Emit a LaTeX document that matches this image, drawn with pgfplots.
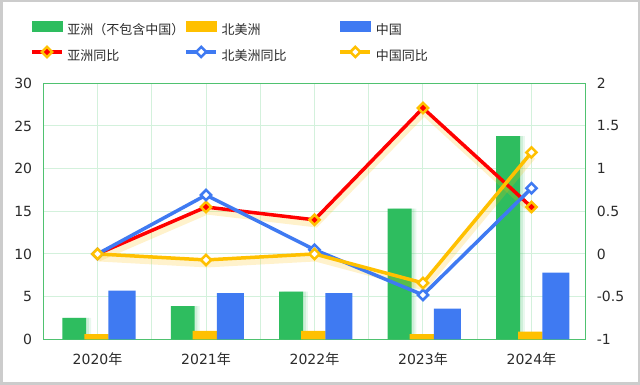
\documentclass[border=0pt]{standalone}
\usepackage{pgfplots}
\pgfplotsset{compat=1.18}
\usepackage{fontspec}
\setmainfont{DejaVu Sans}
\newfontfamily\cjk{Noto Sans CJK SC}
\definecolor{cGrn}{HTML}{2EBD5F}
\definecolor{cYel}{HTML}{FFC000}
\definecolor{cBlu}{HTML}{3F7AF2}
\definecolor{cRed}{HTML}{FF0000}
\definecolor{gridc}{HTML}{D3F1DC}
\definecolor{axc}{HTML}{4FC270}
\definecolor{txt}{HTML}{2B2B2B}
\definecolor{frame}{HTML}{CCCCCC}
\pgfplotsset{
  base/.style={
    scale only axis, width=542.4pt, height=256pt,
    at={(43.3pt,45.7pt)}, anchor=south west,
    xmin=-0.5, xmax=4.5,
    major tick length=0pt, minor tick length=0pt,
    /pgf/number format/assume math mode=true,
    tick label style={font=\fontsize{14}{16}\selectfont, text=txt},
  }
}
\begin{document}
\begin{tikzpicture}
\useasboundingbox (0,0) rectangle (640pt,385pt);
\fill[white] (0,0) rectangle (640pt,385pt);
\draw[frame, line width=2.5pt] (1.25pt,1.25pt) rectangle (638.75pt,383.75pt);
\begin{axis}[base,
  ymin=0, ymax=30, ytick={0,5,...,30},
  yticklabels={0,5,10,15,20,25,30},
  xtick={0,1,2,3,4},
  xticklabels={2020{\cjk 年},2021{\cjk 年},2022{\cjk 年},2023{\cjk 年},2024{\cjk 年}},
  minor xtick={-0.5,0.5,1.5,2.5,3.5,4.5},
  xmajorgrids, xminorgrids, ymajorgrids,
  major grid style={draw=gridc, line width=1pt},
  minor grid style={draw=gridc, line width=1pt},
  axis line style={draw=axc, line width=1pt},
  x tick label style={inner sep=0pt, text height=11pt, text depth=2pt},
  xticklabel shift=14.5pt,
  y tick label style={inner sep=0pt},
  yticklabel shift=11pt,
]
% green bar shadow
\addplot[ybar, bar width=0.22, bar shift=-0.17, fill=cGrn, fill opacity=0.10, draw=none]
  coordinates {(0,2.5) (1,3.9) (2,5.6) (3,15.3) (4,23.8)};
\addplot[ybar, bar width=0.22, bar shift=-0.19, fill=cGrn, fill opacity=0.14, draw=none]
  coordinates {(0,2.5) (1,3.9) (2,5.6) (3,15.3) (4,23.8)};
\addplot[ybar, bar width=0.22, bar shift=-0.215, fill=cGrn, draw=none]
  coordinates {(0,2.5) (1,3.9) (2,5.6) (3,15.3) (4,23.8)};
\addplot[ybar, bar width=0.225, bar shift=-0.01, fill=cYel, draw=none]
  coordinates {(0,0.6) (1,1.0) (2,1.0) (3,0.6) (4,0.9)};
\addplot[ybar, bar width=0.25, bar shift=0.225, fill=cBlu, draw=none]
  coordinates {(0,5.7) (1,5.4) (2,5.4) (3,3.6) (4,7.8)};
\end{axis}
\begin{axis}[base,
  ymin=-1, ymax=2, ytick={-1,-0.5,0,0.5,1,1.5,2},
  yticklabels={-1,-0.5,0,0.5,1,1.5,2},
  axis y line*=right, axis x line=none,
  axis line style={draw=none},
  y tick label style={inner sep=0pt},
  yticklabel shift=11pt,
  legend columns=3,
  legend style={at={(-0.0245,1.2434)}, anchor=north west, draw=none, fill=none,
    inner sep=0pt, row sep=9pt,
    font=\fontsize{13}{15}\selectfont,
    nodes={text=txt, text width=117pt, align=left, inner sep=0pt, text height=10pt, text depth=3pt},
    /tikz/every odd column/.append style={column sep=3.7pt}},
  legend image code/.code={\draw[mark repeat=2,mark phase=2,#1] plot coordinates {(0pt,5pt) (15pt,5pt) (30pt,5pt)};},
]
\addlegendimage{legend image code/.code={\fill[cGrn] (0pt,0pt) rectangle (30pt,10pt);}}
\addlegendentry{\cjk 亚洲（不包含中国）}
\addlegendimage{legend image code/.code={\fill[cYel] (0pt,0pt) rectangle (30pt,10pt);}}
\addlegendentry{\cjk 北美洲}
\addlegendimage{legend image code/.code={\fill[cBlu] (0pt,0pt) rectangle (30pt,10pt);}}
\addlegendentry{\cjk 中国}
% glow shadows
\addplot[forget plot, draw=cYel, draw opacity=0.2, line width=7pt, shift={(1pt,-4pt)}, no marks]
  coordinates {(0,0) (1,0.55) (2,0.40) (3,1.71) (4,0.55)};
\addplot[forget plot, draw=cYel, draw opacity=0.2, line width=7pt, shift={(1pt,-4pt)}, no marks]
  coordinates {(0,0) (1,-0.07) (2,0) (3,-0.34) (4,1.19)};
\addplot[draw=cRed, line width=3.5pt, mark=square*, mark size=3.6pt,
  mark options={rotate=45, fill=cRed, draw=cYel, line width=2.5pt}]
  coordinates {(0,0) (1,0.55) (2,0.40) (3,1.71) (4,0.55)};
\addlegendentry{\cjk 亚洲同比}
\addplot[draw=cBlu, line width=3.5pt, mark=square*, mark size=3.6pt,
  mark options={rotate=45, fill=white, draw=cBlu, line width=2.5pt}]
  coordinates {(0,0) (1,0.69) (2,0.05) (3,-0.48) (4,0.77)};
\addlegendentry{\cjk 北美洲同比}
\addplot[draw=cYel, line width=3.5pt, mark=square*, mark size=3.6pt,
  mark options={rotate=45, fill=white, draw=cYel, line width=2.5pt}]
  coordinates {(0,0) (1,-0.07) (2,0) (3,-0.34) (4,1.19)};
\addlegendentry{\cjk 中国同比}
\end{axis}
\end{tikzpicture}
\end{document}
